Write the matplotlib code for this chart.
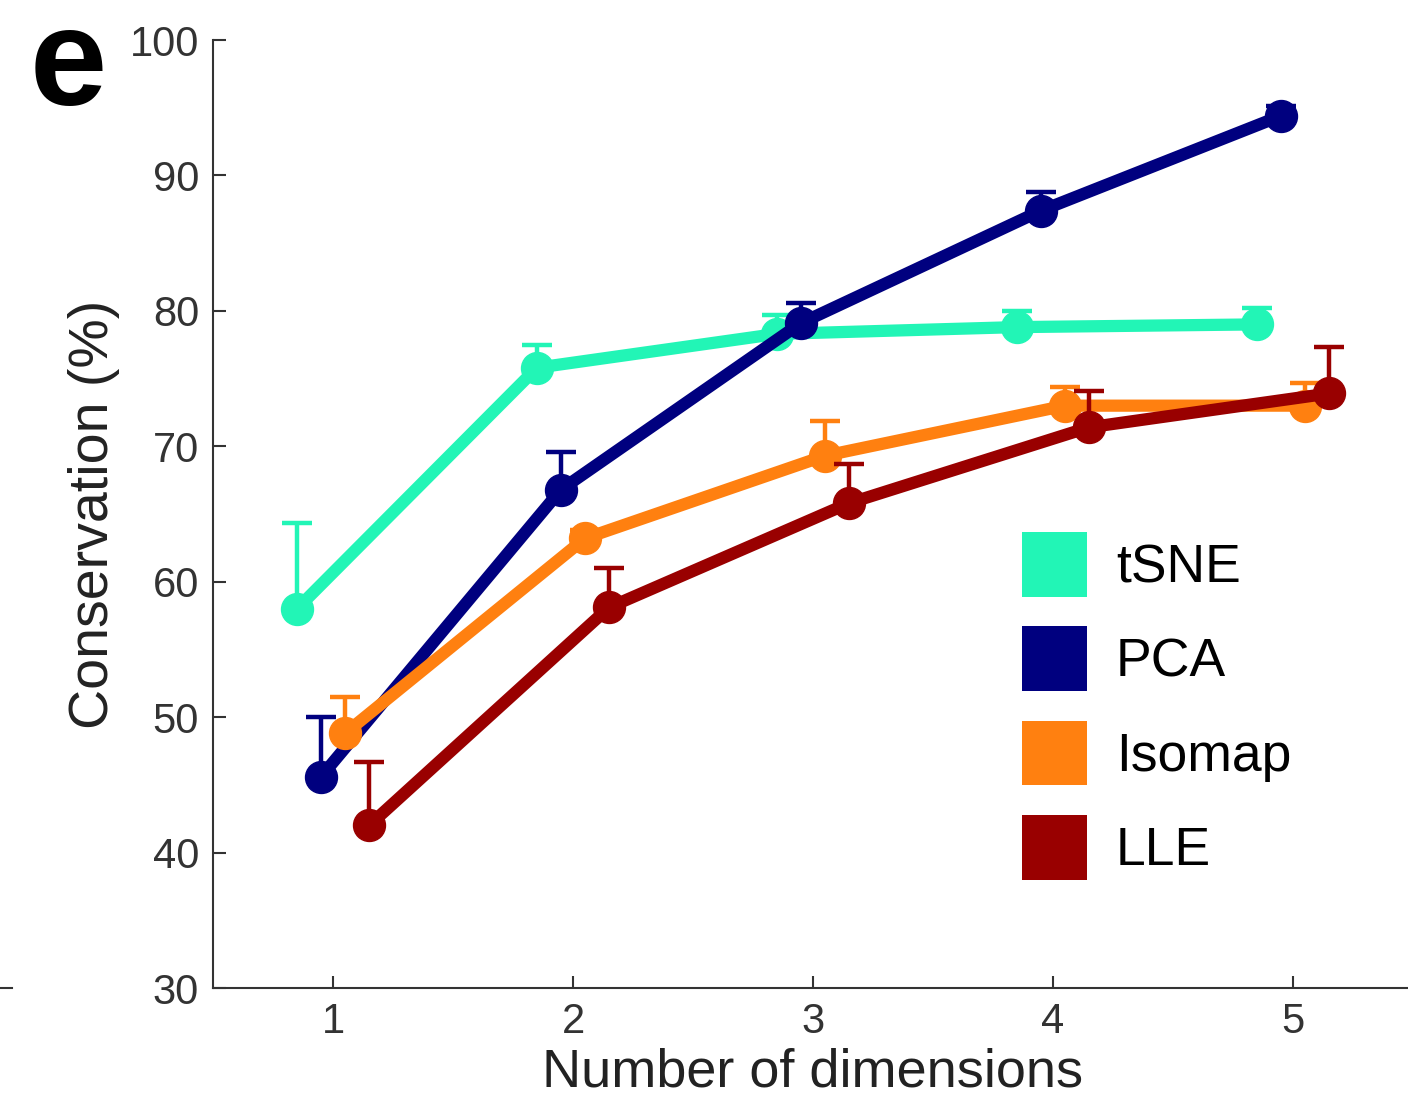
import matplotlib
matplotlib.use("Agg")
import matplotlib.pyplot as plt
from matplotlib.patches import Patch
from matplotlib.lines import Line2D
import numpy as np

plt.rcParams['font.family'] = ['Liberation Sans', 'DejaVu Sans']

dims = [1, 2, 3, 4, 5]
methods = ["tSNE", "PCA", "Isomap", "LLE"]
colors = ["#22f5b6", "#00007f", "#ff8010", "#990000"]
offsets = [-0.15, -0.05, 0.05, 0.15]

tsne_mean = [58.0, 75.8, 78.3, 78.8, 79.0]
tsne_err = [6.3, 1.7, 1.4, 1.2, 1.2]
pca_mean = [45.6, 66.8, 79.1, 87.4, 94.4]
pca_err = [4.4, 2.8, 1.5, 1.4, 0.7]
isomap_mean = [48.8, 63.2, 69.3, 73.0, 73.0]
isomap_err = [2.7, 0.6, 2.6, 1.4, 1.7]
lle_mean = [42.0, 58.1, 65.8, 71.4, 73.9]
lle_err = [4.7, 2.9, 2.9, 2.7, 3.4]

means = [tsne_mean, pca_mean, isomap_mean, lle_mean]
errs = [tsne_err, pca_err, isomap_err, lle_err]

W, H = 1408, 1101
fig = plt.figure(figsize=(W / 100, H / 100), dpi=100)
ax = fig.add_axes([213 / W, 1 - 988 / H, (1413 - 213) / W, (988 - 40) / H])

for i, (m, e, c, off) in enumerate(zip(means, errs, colors, offsets)):
    x = np.array(dims) + off
    ax.errorbar(x, m, yerr=[np.zeros(len(e)), e], fmt='none', ecolor=c,
                elinewidth=3.2, capsize=11, capthick=3.2, zorder=2 + 2 * i)
    ax.plot(x, m, '-o', color=c, lw=8.8, markersize=23, zorder=3 + 2 * i,
            solid_capstyle='round')

ax.set_xlim(0.5, 5.5)
ax.set_ylim(30, 100)
ax.set_xticks(dims)
ax.set_yticks(range(30, 101, 10))
for s in ['top', 'right']:
    ax.spines[s].set_visible(False)
for s in ['left', 'bottom']:
    ax.spines[s].set_linewidth(1.5)
    ax.spines[s].set_color('#333333')
ax.tick_params(direction='in', length=9, width=1.5, color='#333333',
               labelsize=30, labelcolor='#333333', pad=10)
ax.set_xlabel("Number of dimensions", fontsize=39, color='#222222', labelpad=4)
ax.set_ylabel("Conservation (%)", fontsize=40, color='#222222', labelpad=7)

handles = [Patch(facecolor=c, edgecolor='none') for c in colors]
fig.legend(handles, methods, loc='upper left',
           bbox_to_anchor=(1022 / W, 1 - 532 / H), frameon=False,
           fontsize=38.5, handlelength=1.22, handleheight=1.49,
           labelspacing=0.55, handletextpad=0.54, borderpad=0,
           borderaxespad=0)

fig.text(30 / W, 1 - 105 / H, "e", fontsize=100, fontweight='bold',
         ha='left', va='baseline')
fig.add_artist(Line2D([0 / W, 12 / W], [1 - 988 / H, 1 - 988 / H],
                      color='#333333', lw=1.5))

fig.savefig("out.png", dpi=100)
